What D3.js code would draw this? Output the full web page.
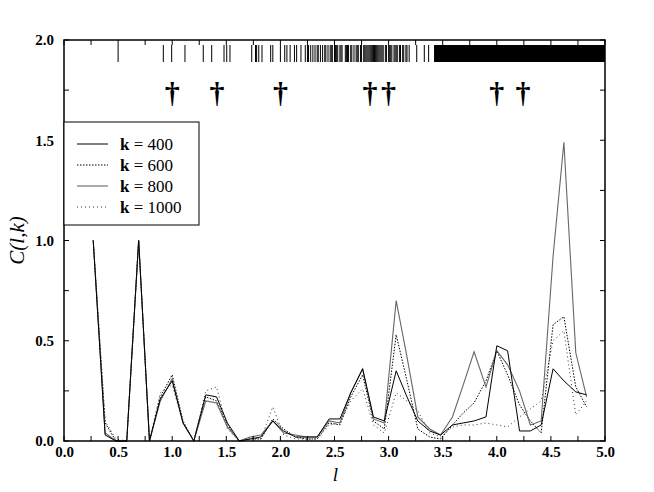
<!DOCTYPE html>
<html><head><meta charset="utf-8">
<script src="https://cdn.jsdelivr.net/npm/d3@7"></script>
<style>body{margin:0;background:#fff}</style>
</head><body><svg id="c" width="654" height="492"></svg>
<script>
const lValues = [0.27,0.38,0.48,0.58,0.69,0.79,0.89,1.00,1.10,1.20,1.31,1.41,1.51,1.62,1.72,1.82,1.93,2.03,2.14,2.24,2.34,2.45,2.55,2.65,2.76,2.86,2.96,3.07,3.17,3.27,3.38,3.48,3.59,3.69,3.79,3.90,4.00,4.10,4.21,4.31,4.41,4.52,4.62,4.73,4.83];
const k400 = [1.0,0.03,0.0,0.0,1.0,0.0,0.21,0.30,0.09,0.0,0.23,0.22,0.09,0.0,0.01,0.02,0.10,0.05,0.02,0.02,0.02,0.11,0.11,0.24,0.36,0.12,0.10,0.35,0.22,0.10,0.05,0.03,0.08,0.09,0.10,0.12,0.475,0.45,0.05,0.05,0.08,0.36,0.30,0.245,0.23];
const k600 = [1.0,0.09,0.0,0.0,1.0,0.0,0.22,0.33,0.10,0.0,0.22,0.20,0.08,0.0,0.01,0.01,0.11,0.06,0.02,0.01,0.01,0.09,0.08,0.22,0.33,0.10,0.06,0.53,0.30,0.06,0.02,0.01,0.08,0.14,0.19,0.30,0.45,0.33,0.18,0.10,0.04,0.58,0.62,0.27,0.17];
const k800 = [1.0,0.04,0.0,0.0,1.0,0.0,0.20,0.31,0.09,0.0,0.20,0.19,0.07,0.0,0.02,0.03,0.10,0.04,0.03,0.02,0.02,0.10,0.09,0.24,0.36,0.11,0.09,0.70,0.42,0.12,0.06,0.03,0.12,0.28,0.445,0.27,0.45,0.38,0.25,0.08,0.10,0.92,1.49,0.44,0.22];
const k1000 = [1.0,0.10,0.01,0.0,1.0,0.0,0.24,0.28,0.09,0.0,0.25,0.27,0.06,0.0,0.02,0.01,0.17,0.03,0.01,0.01,0.01,0.08,0.09,0.20,0.26,0.08,0.04,0.24,0.20,0.15,0.04,0.02,0.07,0.08,0.08,0.09,0.08,0.07,0.12,0.16,0.20,0.50,0.55,0.13,0.20];
const seriesLabels = ["400","600","800","1000"];
const xTicks = [0,0.5,1,1.5,2,2.5,3,3.5,4,4.5,5];
const yTicks = [0,0.5,1,1.5,2];
const spectrumLines = [0.50,0.918,0.995,1.118,1.287,1.365,1.479,1.504,1.534,1.735,1.77,1.78,1.80,1.83,1.91,1.93,2.00,2.04,2.06,2.09,2.13,2.15,2.19,2.23,2.25,2.26,2.28,2.30,2.32,2.34,2.35,2.37,2.39,2.41,2.42,2.44,2.46,2.47,2.48,2.50,2.51,2.52,2.53,2.55,2.56,2.57,2.60,2.61,2.62,2.63,2.65,2.66,2.68,2.70,2.71,2.72,2.74,2.75,2.77,2.78,2.79,2.80,2.81,2.82,2.83,2.84,2.85,2.86,2.87,2.88,2.89,2.90,2.91,2.92,2.93,2.94,2.95,2.97,2.98,3.00,3.01,3.02,3.03,3.05,3.06,3.07,3.08,3.10,3.11,3.13,3.14,3.16,3.17,3.19,3.26,3.33,3.37];
const spectrumBlock = [3.42, 5.0];
const daggers = [1.0, 1.414, 2.0, 2.828, 3.0, 4.0, 4.243];

const svg = d3.select("#c");
const x = d3.scaleLinear().domain([0,5]).range([64,605]);
const y = d3.scaleLinear().domain([0,2]).range([441,40]);
const serif = "'Liberation Serif', 'DejaVu Serif', serif";

// spectrum strip
const sTop = 45, sBot = 62;
svg.append("g").selectAll("line").data(spectrumLines).join("line")
  .attr("x1", d=>x(d)).attr("x2", d=>x(d)).attr("y1", sTop).attr("y2", sBot)
  .attr("stroke","#000").attr("stroke-width",1);
svg.append("rect").attr("x", x(spectrumBlock[0])).attr("width", x(spectrumBlock[1])-x(spectrumBlock[0]))
  .attr("y", sTop).attr("height", sBot-sTop).attr("fill","#000");

// daggers
svg.append("g").selectAll("text").data(daggers).join("text")
  .attr("x", d=>x(d)).attr("y", y(1.74)).attr("text-anchor","middle").attr("dominant-baseline","central")
  .attr("font-family", serif).attr("font-weight","bold").attr("font-size",30).attr("fill","#000").text("\u2020");

// series lines
const styles = [
  {data:k400, stroke:"#000", dash:null, w:1},
  {data:k600, stroke:"#000", dash:"1.5,1.5", w:1},
  {data:k800, stroke:"#666", dash:null, w:1.1},
  {data:k1000, stroke:"#333", dash:"1,3", w:1}
];
const line = d3.line().x((d,i)=>x(lValues[i])).y(d=>y(d));
const order = [3,1,2,0];
order.forEach(i=>{
  const s = styles[i];
  svg.append("path").datum(s.data).attr("d", line).attr("fill","none")
    .attr("stroke", s.stroke).attr("stroke-width", s.w)
    .attr("stroke-dasharray", s.dash);
});

// frame
svg.append("rect").attr("x",x(0)).attr("y",y(2)).attr("width",x(5)-x(0)).attr("height",y(0)-y(2))
  .attr("fill","none").attr("stroke","#000").attr("stroke-width",1.5);

// minor ticks
const xMinor = d3.range(0,5.001,0.25);
const yMinor = d3.range(0,2.001,0.25);
const tl = 5;
const tg = svg.append("g").attr("stroke","#000").attr("stroke-width",1);
xMinor.forEach(v=>{
  tg.append("line").attr("x1",x(v)).attr("x2",x(v)).attr("y1",y(0)).attr("y2",y(0)-tl);
  tg.append("line").attr("x1",x(v)).attr("x2",x(v)).attr("y1",y(2)).attr("y2",y(2)+tl);
});
yMinor.forEach(v=>{
  tg.append("line").attr("x1",x(0)).attr("x2",x(0)+tl).attr("y1",y(v)).attr("y2",y(v));
  tg.append("line").attr("x1",x(5)).attr("x2",x(5)-tl).attr("y1",y(v)).attr("y2",y(v));
});

// axes labels via d3 axes
const xAxis = d3.axisBottom(x).tickValues(xTicks).tickFormat(d3.format(".1f")).tickSize(0).tickPadding(5);
const gx = svg.append("g").attr("transform",`translate(0,${y(0)})`).call(xAxis);
gx.select(".domain").remove();
gx.selectAll("text").attr("font-family",serif).attr("font-size",15).attr("font-weight","bold").attr("fill","#000");
const yAxis = d3.axisLeft(y).tickValues(yTicks).tickFormat(d3.format(".1f")).tickSize(0).tickPadding(10);
const gy = svg.append("g").attr("transform",`translate(${x(0)},0)`).call(yAxis);
gy.select(".domain").remove();
gy.selectAll("text").attr("font-family",serif).attr("font-size",15).attr("font-weight","bold").attr("fill","#000");

// axis titles
svg.append("text").attr("x", x(2.5)+1).attr("y", 481).attr("text-anchor","middle")
  .attr("font-family",serif).attr("font-style","italic").attr("font-size",19).text("l");
svg.append("text").attr("transform",`translate(24,${y(1)}) rotate(-90)`).attr("text-anchor","middle")
  .attr("font-family",serif).attr("font-style","italic").attr("font-size",21).text("C(l,k)");

// legend
const lg = svg.append("g");
lg.append("rect").attr("x",x(0)).attr("y",122).attr("width",135).attr("height",103)
  .attr("fill","#fff").attr("stroke","#000").attr("stroke-width",1);
seriesLabels.forEach((lab,i)=>{
  const yy = 144 + i*21;
  const s = styles[i];
  lg.append("line").attr("x1",77).attr("x2",108).attr("y1",yy).attr("y2",yy)
    .attr("stroke",s.stroke).attr("stroke-width",s.w).attr("stroke-dasharray",s.dash);
  const t = lg.append("text").attr("x",120).attr("y",yy).attr("dominant-baseline","central")
    .attr("font-family",serif).attr("font-size",17);
  t.append("tspan").attr("font-weight","bold").text("k");
  t.append("tspan").text(" = " + lab);
});
</script></body></html>
